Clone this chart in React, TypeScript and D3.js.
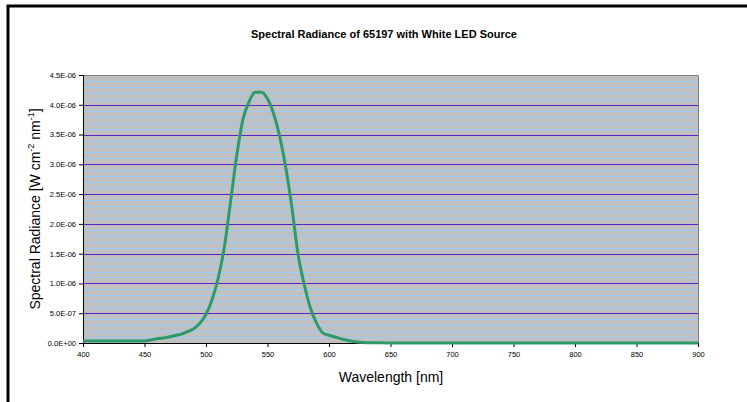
import React, { useEffect, useRef } from 'react';
import * as d3 from 'd3';

// wavelength in nm
const wavelengths = [
  400, 410, 420, 430, 440, 450, 455, 460, 465, 470, 475, 480, 485, 490, 495,
  500, 505, 510, 515, 520, 525, 530, 535, 540, 545, 550, 555, 560, 565, 570,
  575, 580, 585, 590, 595, 600, 605, 610, 615, 620, 625, 630, 640, 650, 700,
  750, 800, 850, 900,
];
// spectral radiance in W cm^-2 nm^-1
const radiance = [
  3.5e-8, 3.5e-8, 3.4e-8, 3.3e-8, 3.3e-8, 3.5e-8, 5.0e-8, 7.0e-8, 8.5e-8, 1.0e-7, 1.25e-7, 1.5e-7, 1.9e-7, 2.4e-7, 3.3e-7,
  4.8e-7, 7.3e-7, 1.1e-6, 1.62e-6, 2.38e-6, 3.15e-6, 3.75e-6, 4.05e-6, 4.21e-6, 4.21e-6, 4.1e-6, 3.85e-6, 3.46e-6, 2.93e-6, 2.25e-6,
  1.47e-6, 9.7e-7, 5.8e-7, 3.3e-7, 1.7e-7, 1.3e-7, 1.0e-7, 7.0e-8, 4.5e-8, 2.5e-8, 1.2e-8, 5e-9, 3e-9, 2e-9, 2e-9,
  2e-9, 2e-9, 2e-9, 2e-9,
];
const xTicks = [400, 450, 500, 550, 600, 650, 700, 750, 800, 850, 900];
const yTicks = [0, 5e-7, 1e-6, 1.5e-6, 2e-6, 2.5e-6, 3e-6, 3.5e-6, 4e-6, 4.5e-6];
const yMinor = d3.range(1, 45).map(i => i * 1e-7);

const fmtExp = (v: number) => {
  if (v === 0) return '0.0E+00';
  const e = Math.floor(Math.log10(v) + 1e-9);
  const m = v / Math.pow(10, e);
  const sign = e < 0 ? '-' : '+';
  return `${m.toFixed(1)}E${sign}${String(Math.abs(e)).padStart(2, '0')}`;
};

const SpectrumChart = () => {
  const svgRef = useRef<SVGSVGElement>(null);

  useEffect(() => {
    document.body.style.margin = '0';
    if (!svgRef.current) return;
    const svg = d3.select(svgRef.current);
    svg.selectAll('*').remove();

    const left = 83, right = 698, top = 75, bottom = 343;

    const x = d3.scaleLinear().domain([400, 900]).range([left, right]);
    const y = d3.scaleLinear().domain([0, 4.5e-6]).range([bottom, top]);

    svg.append('rect').attr('width', 747).attr('height', 402).attr('fill', '#fff');

    // outer frame
    svg.append('rect')
      .attr('x', 8).attr('y', 6).attr('width', 900).attr('height', 600)
      .attr('fill', 'none').attr('stroke', '#000').attr('stroke-width', 3);

    // plot area
    svg.append('rect')
      .attr('x', left).attr('y', top)
      .attr('width', right - left).attr('height', bottom - top)
      .attr('fill', '#c0c0c0');

    // minor grid
    svg.append('g').selectAll('line')
      .data(yMinor.filter(v => Math.round(v / 1e-7) % 5 !== 0))
      .enter().append('line')
      .attr('x1', left).attr('x2', right)
      .attr('y1', d => Math.round(y(d)) + 0.5).attr('y2', d => Math.round(y(d)) + 0.5)
      .attr('stroke', '#99ccff').attr('stroke-width', 1);

    // major grid
    svg.append('g').selectAll('line')
      .data(yTicks.slice(1, -1))
      .enter().append('line')
      .attr('x1', left).attr('x2', right)
      .attr('y1', d => Math.round(y(d)) + 0.5).attr('y2', d => Math.round(y(d)) + 0.5)
      .attr('stroke', '#5a22cc').attr('stroke-width', 1);

    // plot border top/right
    svg.append('path')
      .attr('d', `M${left},${top + 0.5}H${right + 0.5}V${bottom}`)
      .attr('fill', 'none').attr('stroke', '#808080').attr('stroke-width', 1);

    // axes
    const xAxis = d3.axisBottom(x).tickValues(xTicks).tickSize(4).tickFormat(d => String(d));
    const gx = svg.append('g').attr('transform', `translate(0,${bottom})`).call(xAxis);
    gx.select('.domain').attr('stroke', '#000');
    gx.selectAll('text')
      .attr('font-family', 'Arial, "Liberation Sans", sans-serif')
      .attr('font-size', 7.5).attr('fill', '#000').attr('dy', '1.1em').attr('y', 6);

    const yAxis = d3.axisLeft(y).tickValues(yTicks).tickSize(4).tickFormat(d => fmtExp(+d));
    const gy = svg.append('g').attr('transform', `translate(${left},0)`).call(yAxis);
    gy.select('.domain').attr('stroke', '#000');
    gy.selectAll('text')
      .attr('font-family', 'Arial, "Liberation Sans", sans-serif')
      .attr('font-size', 7.5).attr('fill', '#000').attr('x', -7);

    // curve
    const data = wavelengths.map((w, i) => ({ w, v: radiance[i] }));
    const line = d3.line<{ w: number; v: number }>()
      .x(d => x(d.w))
      .y(d => y(d.v))
      .curve(d3.curveMonotoneX);
    svg.append('path')
      .datum(data)
      .attr('d', line)
      .attr('fill', 'none')
      .attr('stroke', '#2e9a6a')
      .attr('stroke-width', 3)
      .attr('stroke-linejoin', 'round');

    // title
    svg.append('text')
      .attr('x', 384).attr('y', 38)
      .attr('text-anchor', 'middle')
      .attr('font-family', 'Arial, "Liberation Sans", sans-serif')
      .attr('font-size', 11).attr('font-weight', 'bold')
      .text('Spectral Radiance of 65197 with White LED Source');

    // x label
    svg.append('text')
      .attr('x', 391).attr('y', 382)
      .attr('text-anchor', 'middle')
      .attr('font-family', 'Arial, "Liberation Sans", sans-serif')
      .attr('font-size', 14)
      .text('Wavelength [nm]');

    // y label
    const yl = svg.append('text')
      .attr('transform', `translate(40,${(top + bottom) / 2}) rotate(-90)`)
      .attr('text-anchor', 'middle')
      .attr('font-family', 'Arial, "Liberation Sans", sans-serif')
      .attr('font-size', 14);
    yl.append('tspan').text('Spectral Radiance [W cm');
    yl.append('tspan').attr('font-size', 9).attr('dy', -6).text('-2');
    yl.append('tspan').attr('dy', 6).text(' nm');
    yl.append('tspan').attr('font-size', 9).attr('dy', -6).text('-1');
    yl.append('tspan').attr('dy', 6).text(']');
  }, []);

  return <svg ref={svgRef} width={747} height={402} style={{ display: 'block' }} />;
};

export default function App() {
  return <SpectrumChart />;
}
